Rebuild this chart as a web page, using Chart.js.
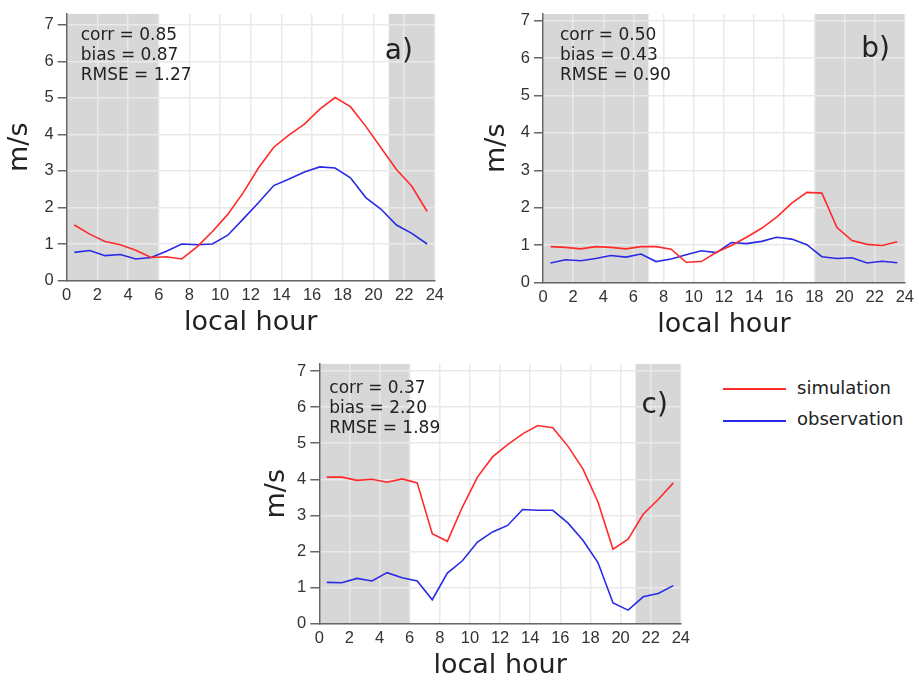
<!DOCTYPE html>
<html>
<head>
<meta charset="utf-8">
<script src="https://cdn.jsdelivr.net/npm/chart.js@4.4.1/dist/chart.umd.min.js"></script>
<style>
  html, body { margin:0; padding:0; background:#fff; overflow:hidden; width:919px; height:680px; }
  canvas { position:absolute; }
  .leg { position:absolute; font-family:"DejaVu Sans", sans-serif; font-size:18px; color:#222; }
  .legline { position:absolute; height:2px; }
</style>
</head>
<body>
<canvas id="ca"></canvas>
<canvas id="cb"></canvas>
<canvas id="cc"></canvas>
<div class="legline" style="left:723px;top:388px;width:63px;background:#ff2a2a"></div>
<div class="leg" style="left:797px;top:377px;">simulation</div>
<div class="legline" style="left:723px;top:420px;width:63px;background:#2a2ae6"></div>
<div class="leg" style="left:797px;top:408px;">observation</div>
<script>
// ---- data ----
const hours = [0.5,1.5,2.5,3.5,4.5,5.5,6.5,7.5,8.5,9.5,10.5,11.5,12.5,13.5,14.5,15.5,16.5,17.5,18.5,19.5,20.5,21.5,22.5,23.5];
const xTickValues = [0,2,4,6,8,10,12,14,16,18,20,22,24];
const yTickValues = [0,1,2,3,4,5,6,7];
const seriesNames = ['simulation','observation'];

const simA = [1.52,1.27,1.07,0.98,0.83,0.63,0.65,0.59,0.92,1.34,1.81,2.40,3.08,3.65,3.99,4.28,4.69,5.01,4.76,4.22,3.63,3.04,2.58,1.89];
const obsA = [0.77,0.82,0.68,0.71,0.59,0.63,0.80,1.00,0.98,1.00,1.24,1.68,2.13,2.60,2.78,2.97,3.11,3.08,2.81,2.27,1.95,1.52,1.29,1.00];
const simB = [0.96,0.94,0.90,0.96,0.94,0.90,0.96,0.96,0.89,0.54,0.56,0.81,0.99,1.21,1.45,1.75,2.12,2.41,2.39,1.47,1.12,1.02,0.99,1.09];
const obsB = [0.52,0.61,0.58,0.64,0.72,0.68,0.76,0.56,0.63,0.74,0.85,0.80,1.07,1.04,1.10,1.21,1.16,1.01,0.69,0.64,0.66,0.52,0.57,0.53];
const simC = [4.06,4.06,3.97,4.00,3.92,4.01,3.90,2.49,2.28,3.23,4.06,4.62,4.96,5.26,5.49,5.43,4.92,4.29,3.37,2.06,2.34,3.03,3.44,3.90];
const obsC = [1.14,1.13,1.25,1.18,1.41,1.27,1.18,0.66,1.40,1.74,2.26,2.54,2.72,3.16,3.14,3.14,2.79,2.31,1.69,0.57,0.37,0.74,0.83,1.05];

const nightA = [[0,6],[21,24]];
const nightB = [[0,7],[18,24]];
const nightC = [[0,6],[21,24]];

const statsA = ['corr = 0.85','bias = 0.87','RMSE = 1.27'];
const statsB = ['corr = 0.50','bias = 0.43','RMSE = 0.90'];
const statsC = ['corr = 0.37','bias = 2.20','RMSE = 1.89'];
const panelLabels = ['a)','b)','c)'];

const RED = '#ff2a2a', BLUE = '#2a2ae6';

const decor = {
  id: 'decor',
  beforeDraw(chart, args, o) {
    const {ctx, chartArea:a, scales:{x}} = chart;
    ctx.save();
    ctx.fillStyle = '#d7d7d7';
    o.shade.forEach(([s,e]) => {
      const x0 = x.getPixelForValue(s), x1 = x.getPixelForValue(e);
      ctx.fillRect(x0, a.top, x1 - x0, a.bottom - a.top);
    });
    ctx.restore();
  },
  afterDraw(chart, args, o) {
    const {ctx, chartArea:a} = chart;
    ctx.save();
    ctx.fillStyle = '#222';
    ctx.font = '17px "DejaVu Sans"';
    ctx.textBaseline = 'middle';
    ctx.textAlign = 'left';
    o.stats.forEach((t,i) => ctx.fillText(t, a.left + o.sx, a.top + o.sy + i*20));
    ctx.font = '28px "DejaVu Sans"';
    ctx.textAlign = 'right';
    ctx.fillText(o.label, a.right - o.lx, a.top + o.ly);
    ctx.restore();
  }
};

function makeChart(id, geo, sim, obs, shade, stats, label, off) {
  const cv = document.getElementById(id);
  const H = 57.5;
  const w = geo.right + 12 - geo.left;
  const h = Math.round(geo.bottom + H - geo.top);
  cv.width = w; cv.height = h;
  cv.style.left = geo.left + 'px'; cv.style.top = geo.top + 'px';
  cv.style.width = w + 'px'; cv.style.height = h + 'px';
  return new Chart(cv, {
    type: 'line',
    data: {
      datasets: [
        { label: seriesNames[0], data: hours.map((hh,i)=>({x:hh, y:sim[i]})), borderColor: RED, borderWidth: 1.6, pointRadius: 0, tension: 0, fill: false },
        { label: seriesNames[1], data: hours.map((hh,i)=>({x:hh, y:obs[i]})), borderColor: BLUE, borderWidth: 1.6, pointRadius: 0, tension: 0, fill: false }
      ]
    },
    options: {
      responsive: false, animation: false, devicePixelRatio: 1,
      layout: { padding: { left: 0, right: 12, top: geo.areaTop - geo.top, bottom: 0 } },
      plugins: {
        legend: { display: false }, tooltip: { enabled: false },
        decor: { shade, stats, label, sx: off.sx, sy: off.sy, lx: off.lx, ly: off.ly }
      },
      scales: {
        x: {
          type: 'linear', min: 0, max: 24,
          afterBuildTicks: s => { s.ticks = xTickValues.map(v=>({value:v})); },
          afterFit: s => { s.height = H; },
          grid: { color: '#e9e9e9', lineWidth: 1.5, tickLength: 0, drawTicks: false },
          border: { color: '#666', width: 1.5 },
          ticks: { padding: 5, color: '#333', font: { family: '"Liberation Sans"', size: 16.5 }, maxRotation: 0, autoSkip: false },
          title: { display: true, text: 'local hour', color: '#222', font: { family: '"DejaVu Sans"', size: 27, lineHeight: 1 }, padding: { top: 0, bottom: 2 } }
        },
        y: {
          min: 0, max: geo.ymax,
          afterBuildTicks: s => { s.ticks = yTickValues.map(v=>({value:v})); },
          afterFit: s => { s.width = geo.areaLeft - geo.left; },
          grid: { color: '#e9e9e9', lineWidth: 1.5, tickLength: 9, tickColor: '#666', tickWidth: 1.5 },
          border: { color: '#666', width: 1.5 },
          ticks: { padding: 4, color: '#333', font: { family: '"Liberation Sans"', size: 16.5 } },
          title: { display: true, text: 'm/s', color: '#222', font: { family: '"DejaVu Sans"', size: 27, lineHeight: 1 }, padding: { top: 6.5, bottom: 0 } }
        }
      }
    },
    plugins: [decor]
  });
}

makeChart('ca', { left: 0, top: 0, areaLeft: 66.7, areaTop: 11.7, right: 437, bottom: 280, ymax: 7.3 },
  simA, obsA, nightA, statsA, panelLabels[0], { sx: 14, sy: 21.5, lx: 22, ly: 38 });
makeChart('cb', { left: 477, top: 0, areaLeft: 543, areaTop: 14, right: 907, bottom: 282.7, ymax: 7.18 },
  simB, obsB, nightB, statsB, panelLabels[1], { sx: 17, sy: 22, lx: 15, ly: 36 });
makeChart('cc', { left: 257, top: 350, areaLeft: 319.3, areaTop: 363.3, right: 683.3, bottom: 623.3, ymax: 7.2 },
  simC, obsC, nightC, statsC, panelLabels[2], { sx: 10, sy: 25, lx: 13, ly: 42 });
</script>
</body>
</html>
